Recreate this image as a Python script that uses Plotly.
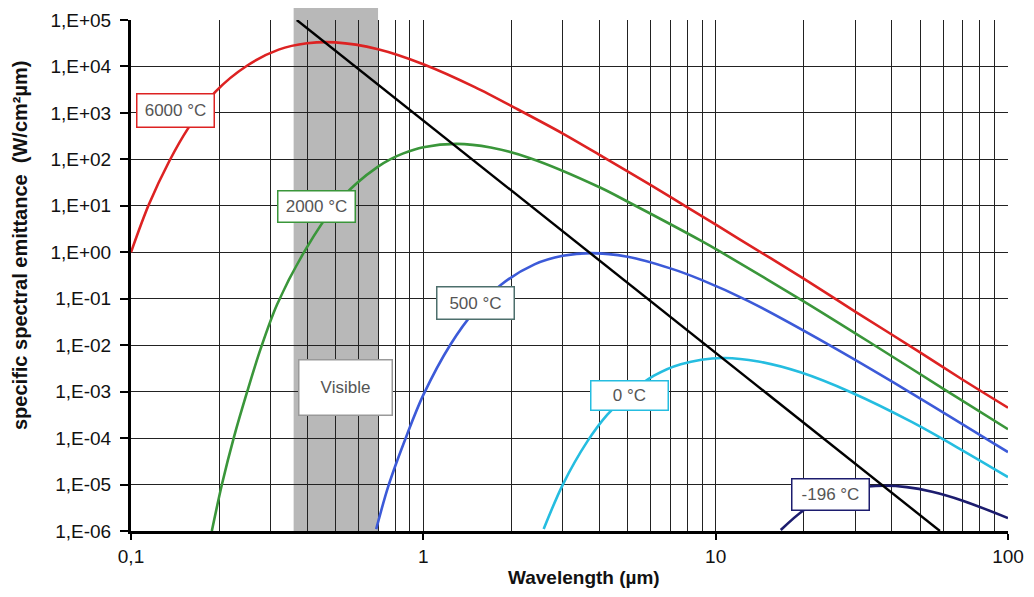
import plotly.graph_objects as go

# ---------------- data ----------------
wl_6000 = [0.1, 0.115, 0.135, 0.157, 0.195, 0.25, 0.32, 0.4, 0.5, 0.7, 1.0, 1.5, 2.1, 3, 4.1, 6, 8, 12, 20, 30, 50, 70, 100]
em_6000 = [1.0, 10.5, 90, 470, 2900, 1.05e4, 2.3e4, 3.15e4, 3.3e4, 2.35e4, 1.12e4, 3600, 1200, 360, 115, 28, 9.3, 1.95, 0.27, 0.053, 7e-3, 1.8e-3, 4.5e-4]

wl_2000 = [0.189, 0.205, 0.225, 0.25, 0.277, 0.316, 0.394, 0.5, 0.593, 0.7, 0.77, 0.85, 1.0, 1.3, 1.7, 2.32, 4.04, 5.1, 8.9, 10.4, 20, 34.8, 60.5, 100]
em_2000 = [1e-6, 1.05e-5, 1.05e-4, 1.02e-3, 8e-3, 0.075, 1.1, 10.3, 31, 70, 100, 133, 182, 215, 180, 106, 24.5, 11.5, 1.78, 1.02, 0.088, 0.0101, 1.12e-3, 1.55e-4]

wl_500 = [0.69, 0.76, 0.88, 1.0, 1.24, 1.5, 1.84, 2.4, 3.0, 3.75, 5.0, 7.0, 8.9, 12.9, 24, 45, 100]
em_500 = [1.1e-6, 9.5e-6, 1.2e-4, 8.5e-4, 0.0105, 0.055, 0.198, 0.55, 0.84, 0.96, 0.8, 0.45, 0.258, 0.09, 0.0108, 1.07e-3, 5e-5]

wl_0 = [2.58, 3.0, 3.64, 4.26, 5.0, 6.15, 7.6, 10.6, 14, 19.5, 29, 47, 70, 100]
em_0 = [1.1e-6, 1e-5, 8.5e-5, 3.2e-4, 8.5e-4, 2.2e-3, 3.9e-3, 5.3e-3, 4.45e-3, 2.6e-3, 9.7e-4, 2.2e-4, 5.4e-5, 1.45e-5]

wl_m196 = [16.7, 20, 25, 30, 37.5, 45, 55, 70, 100]
em_m196 = [1.05e-6, 2.8e-6, 5.9e-6, 8.3e-6, 9.4e-6, 8.8e-6, 7.0e-6, 4.5e-6, 1.9e-6]

wien_wl = [0.369, 58.5]
wien_em = [1e5, 1e-6]

visible_band = [0.36, 0.70]

y_tickvals = [1e5, 1e4, 1e3, 1e2, 1e1, 1e0, 1e-1, 1e-2, 1e-3, 1e-4, 1e-5, 1e-6]
y_ticktext = ["1,E+05", "1,E+04", "1,E+03", "1,E+02", "1,E+01", "1,E+00",
              "1,E-01", "1,E-02", "1,E-03", "1,E-04", "1,E-05", "1,E-06"]
x_tickvals = [0.1, 1, 10, 100]
x_ticktext = ["0,1", "1", "10", "100"]
x_minor = [m * d for d in (0.1, 1, 10) for m in range(2, 10)]

series = [
    ("6000 °C", wl_6000, em_6000, "#dd2222"),
    ("2000 °C", wl_2000, em_2000, "#3a963a"),
    ("500 °C", wl_500, em_500, "#3c5ad8"),
    ("0 °C", wl_0, em_0, "#25bde0"),
    ("-196 °C", wl_m196, em_m196, "#1c1c6e"),
]

# ---------------- figure ----------------
# the page body has an 8px margin, so the figure is drawn 8px in from the top-left
OFF = 8
W, H = 1034 - 2 * OFF, 597 - 2 * OFF
L, R, T, B = 131 - OFF, 1008 - OFF, 20 - OFF, 531 - OFF

def px(xp):
    return (xp - OFF - L) / (R - L)

def py(yp):
    return (B - (yp - OFF)) / (B - T)

fig = go.Figure()

for name, xs, ys, col in series:
    fig.add_trace(go.Scatter(x=xs, y=ys, mode="lines", name=name,
                             line=dict(color=col, width=2.6, shape="spline", smoothing=0.9),
                             hoverinfo="skip"))

fig.add_trace(go.Scatter(x=wien_wl, y=wien_em, mode="lines", name="Wien",
                         line=dict(color="#000000", width=2.4), hoverinfo="skip"))

fig.add_shape(type="rect", xref="x", yref="paper",
              x0=visible_band[0], x1=visible_band[1], y0=0, y1=py(8),
              fillcolor="#b8b8b8", line=dict(width=0), layer="below")

font_family = "Liberation Sans, Arial, sans-serif"

labels = [
    ("6000 °C", 175, 110, "#dd2222", 64, 20),
    ("2000 °C", 316, 206, "#3a963a", 64, 18),
    ("500 °C", 475, 303, "#4d6f6c", 64, 19),
    ("0 °C", 629, 395, "#25bde0", 64, 16),
    ("-196 °C", 830, 494, "#1c1c6e", 64, 18),
    ("Visible", 345, 387, "#999999", 80, 42),
]
for text, cx, cy, bc, w, h in labels:
    fig.add_annotation(text=text, xref="paper", yref="paper", x=px(cx), y=py(cy),
                       xanchor="center", yanchor="middle", showarrow=False,
                       font=dict(family=font_family, size=17, color="#555555"),
                       bgcolor="#ffffff", bordercolor=bc, borderwidth=1.5,
                       borderpad=6, width=w, height=h)

fig.add_annotation(text="<b>specific spectral emittance  (W/cm²µm)</b>",
                   xref="paper", yref="paper", x=px(20), y=py(246),
                   xanchor="center", yanchor="middle", showarrow=False, textangle=-90,
                   font=dict(family=font_family, size=20, color="#111111"))
fig.add_annotation(text="<b>Wavelength (µm)</b>",
                   xref="paper", yref="paper", x=px(584), y=py(577),
                   xanchor="center", yanchor="middle", showarrow=False,
                   font=dict(family=font_family, size=19, color="#111111"))

grid_col = "#222222"
fig.update_xaxes(type="log", range=[-1, 2], tickvals=x_tickvals, ticktext=x_ticktext,
                 ticks="outside", ticklen=6, tickwidth=2, tickcolor="#000000",
                 showline=True, linecolor="#000000", linewidth=3, automargin=False,
                 showgrid=True, gridcolor=grid_col, gridwidth=1.4, zeroline=False,
                 minor=dict(tickvals=x_minor, showgrid=True, gridcolor=grid_col,
                            gridwidth=1.4, ticks=""),
                 tickfont=dict(family=font_family, size=19, color="#111111"))
fig.update_yaxes(type="log", range=[-6, 5], tickvals=y_tickvals, ticktext=y_ticktext,
                 ticks="outside", ticklen=8, tickwidth=2, tickcolor="#000000",
                 showline=True, linecolor="#000000", linewidth=3, automargin=False,
                 showgrid=True, gridcolor=grid_col, gridwidth=1.4, zeroline=False,
                 ticklabelstandoff=5,
                 tickfont=dict(family=font_family, size=19, color="#111111"))

fig.update_layout(width=W, height=H, showlegend=False,
                  margin=dict(l=L, r=W - R, t=T, b=H - B, autoexpand=False),
                  paper_bgcolor="#ffffff", plot_bgcolor="rgba(0,0,0,0)",
                  font=dict(family=font_family))

fig.write_html("out.html")
